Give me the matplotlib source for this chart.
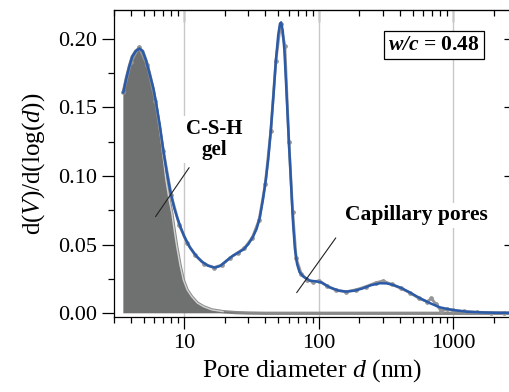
import matplotlib
matplotlib.use("Agg")
from matplotlib import pyplot as plt

plt.rcParams['font.family'] = ['Liberation Serif', 'DejaVu Serif']
plt.rcParams['mathtext.fontset'] = 'custom'
plt.rcParams['mathtext.rm'] = 'Liberation Serif'
plt.rcParams['mathtext.it'] = 'Liberation Serif:italic'
plt.rcParams['mathtext.bf'] = 'Liberation Serif:bold'
plt.rcParams['mathtext.bfit'] = 'Liberation Serif:italic:bold'

# fitted total distribution (blue)
d_fit = [3.52, 3.7, 3.9, 4.1, 4.35, 4.63, 4.9, 5.2, 5.5, 5.88, 6.2, 6.6, 7.0, 7.4,
         7.9, 8.4, 8.8, 9.4, 10, 11, 12.4, 13.5, 15, 16.9, 18.5, 20.7, 23, 25.5,
         27.5, 30, 32.5, 34.5, 36.5, 38.5, 40.5, 42.1, 44, 46, 48, 50, 51.5, 52.5,
         54, 55.5, 57, 58.5, 60, 61.5, 63, 64.5, 66.5, 69, 72, 76.9, 86, 95, 105,
         120, 140, 160, 185, 210, 245, 285, 320, 358, 410, 470, 566, 680, 795,
         900, 1000, 1250, 1580, 2000, 2650]
v_fit = [0.161, 0.171, 0.180, 0.187, 0.191, 0.193, 0.191, 0.184, 0.175, 0.164,
         0.152, 0.136, 0.118, 0.103, 0.088, 0.077, 0.0705, 0.0625, 0.0559, 0.048,
         0.0413, 0.0377, 0.0347, 0.0333, 0.0345, 0.0385, 0.042, 0.0445, 0.0465,
         0.0505, 0.056, 0.0615, 0.070, 0.083, 0.098, 0.112, 0.133, 0.158, 0.184,
         0.203, 0.211, 0.212, 0.206, 0.192, 0.170, 0.147, 0.125, 0.105, 0.084,
         0.065, 0.047, 0.036, 0.030, 0.0267, 0.0238, 0.0233, 0.0225, 0.019,
         0.0166, 0.0158, 0.0165, 0.018, 0.0205, 0.0219, 0.0218, 0.0207, 0.0185,
         0.0155, 0.011, 0.0072, 0.0044, 0.0032, 0.0024, 0.0012, 0.0007, 0.0004,
         0.0003]

# measured data (grey, mostly hidden under the fit)
d_meas = [3.52, 4.0, 4.6, 5.3, 6.1, 7.0, 8.0, 9.2, 10.5, 12, 14, 16.5, 19, 22,
          25, 28, 32, 36, 40, 44, 48, 52, 56, 60, 64, 68, 74, 82, 90, 100, 115,
          135, 160, 190, 225, 265, 300, 350, 410, 480, 560, 640, 690, 740, 816,
          900, 1000, 1200, 1500, 1900, 2400, 2650]
v_meas = [0.161, 0.183, 0.194, 0.181, 0.155, 0.118, 0.086, 0.064, 0.0515,
          0.0425, 0.0362, 0.0333, 0.0352, 0.0405, 0.0442, 0.0475, 0.055, 0.068,
          0.094, 0.133, 0.184, 0.211, 0.195, 0.125, 0.074, 0.040, 0.029, 0.0245,
          0.0230, 0.0236, 0.020, 0.0168, 0.0157, 0.0172, 0.0195, 0.0222, 0.0236,
          0.0210, 0.0182, 0.0148, 0.0108, 0.0085, 0.0108, 0.0070, 0.0017, 0.0032,
          0.0022, 0.0014, 0.0008, 0.0005, 0.0003, 0.0003]

# C-S-H gel component (filled)
d_gel = [3.52, 3.7, 3.9, 4.1, 4.35, 4.63, 4.9, 5.2, 5.5, 5.88, 6.2, 6.6, 7.0,
         7.3, 7.7, 8.07, 8.4, 8.78, 9.3, 9.83, 10.5, 11.35, 12.5, 13.9, 16, 19.4,
         24, 30, 40, 2650]
v_gel = [0.161, 0.171, 0.180, 0.187, 0.191, 0.193, 0.191, 0.184, 0.175, 0.163,
         0.150, 0.132, 0.112, 0.097, 0.083, 0.073, 0.061, 0.0486, 0.035, 0.0243,
         0.017, 0.0121, 0.0075, 0.0048, 0.0025, 0.0012, 0.0005, 0.0002, 0.0, 0.0]

fig = plt.figure(figsize=(5.09, 3.92), dpi=100)
ax = fig.add_axes([0.224, 0.192, 0.778, 0.7824])

ax.plot(d_gel, v_gel, color='#8a8a8a', lw=2.4, zorder=1.8)
ax.fill_between(d_gel, v_gel, 0, facecolor='#6f7070', edgecolor='none', zorder=2)
ax.plot(d_gel[:26], v_gel[:26], color='#d2d2d2', lw=1.0, zorder=2.2)
ax.plot(d_meas, v_meas, color='#969696', lw=2.0, marker='o', ms=2.4, zorder=3)
ax.plot(d_fit, v_fit, color='#2b5ba8', lw=1.8, zorder=4)

ax.set_xscale('log')
ax.set_xlim(3.0, 2650)
ax.set_ylim(-0.0025, 0.221)
ax.set_yticks([0, 0.05, 0.10, 0.15, 0.20])
ax.set_yticklabels(['0.00', '0.05', '0.10', '0.15', '0.20'])
ax.set_yticks([0.025, 0.075, 0.125, 0.175], minor=True)
ax.set_xticks([10, 100, 1000])
ax.set_xticklabels(['10', '100', '1000'])
ax.grid(axis='x', which='major', color='#c8c8c8', lw=1.0, zorder=1)
ax.set_axisbelow(True)

ax.tick_params(which='major', direction='out', length=8.5, width=0.9,
               labelsize=16, pad=4)
ax.tick_params(which='minor', direction='out', length=4.3, width=0.9)
for s in ax.spines.values():
    s.set_linewidth(0.9)

top = ax.secondary_xaxis('top')
top.tick_params(which='major', direction='in', length=8.5, width=0.9,
                labeltop=False)
top.tick_params(which='minor', direction='in', length=4.3, width=0.9)
top.set_xticks([10, 100, 1000])
top.set_xticklabels([])

right = ax.secondary_yaxis('right')
right.tick_params(which='major', direction='in', length=4.3, width=0.9,
                  labelright=False)
right.set_yticks([0, 0.05, 0.10, 0.15, 0.20])
right.set_yticklabels([])
right.set_yticks([], minor=True)

ax.set_xlabel(r'Pore diameter $d$ (nm)', fontsize=18.5, labelpad=3)
ax.set_ylabel(r'd($V$)/d(log($d$))', fontsize=18, labelpad=8)

ax.text(16.6, 0.1265, 'C-S-H\ngel', fontsize=15, fontweight='bold',
        ha='center', va='center', linespacing=1.1, zorder=5,
        bbox=dict(facecolor='white', edgecolor='none', pad=2))
ax.annotate('', xy=(5.95, 0.0688), xytext=(11.16, 0.1078),
            arrowprops=dict(arrowstyle='-', color='#222222', lw=0.8), zorder=6)
ax.text(537, 0.0714, 'Capillary pores', fontsize=15.5, fontweight='bold',
        ha='center', va='center', zorder=5,
        bbox=dict(facecolor='white', edgecolor='none', pad=2))
ax.annotate('', xy=(66.7, 0.0134), xytext=(137.7, 0.0566),
            arrowprops=dict(arrowstyle='-', color='#222222', lw=0.8), zorder=6)
ax.text(718, 0.1953, r'$\mathbfit{w/c}$ = 0.48', fontsize=15.5, fontweight='bold',
        ha='center', va='center', zorder=5,
        bbox=dict(facecolor='white', edgecolor='black', lw=0.9, pad=3))

fig.savefig('out.png', dpi=100)
